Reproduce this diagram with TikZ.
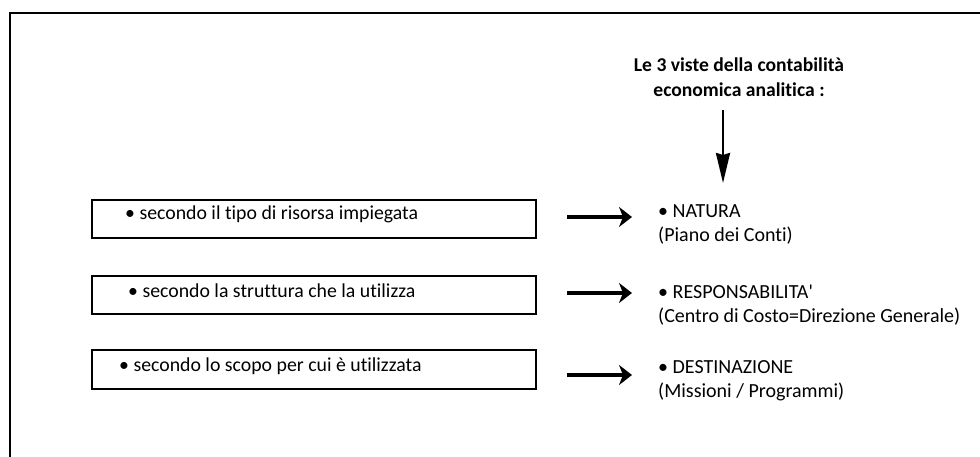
\documentclass[tikz,border=0pt]{standalone}
\usepackage{fontspec}
\setmainfont{Carlito}
\newfontfamily\rawfont{Carlito}[Ligatures=NoCommon]
\usetikzlibrary{arrows.meta}
\begin{document}
\begin{tikzpicture}[x=1pt,y=-1pt,
  boxstyle/.style={draw=black,line width=1.2pt},
  lefttext/.style={font=\rawfont\fontsize{19.8}{25}\selectfont,anchor=west,inner sep=0pt},
  righttext/.style={font=\rawfont\fontsize{20}{25}\selectfont,anchor=west,inner sep=0pt},
  bigarrow/.style={line width=4.5pt,-{Stealth[length=13pt,width=20pt,inset=4pt]}},
  downarrow/.style={line width=2.4pt,-{Stealth[length=30pt,width=14pt,inset=2pt]}}]
\useasboundingbox (0,0) rectangle (980,457);
\draw[line width=1.2pt] (10,470) -- (10,13) -- (990,13);
% boxes
\draw[boxstyle] (92,200) rectangle (536,238);
\draw[boxstyle] (92,276) rectangle (536,314);
\draw[boxstyle] (92,350) rectangle (536,389);
\node[lefttext] (b1) at (125,214) {• secondo il tipo di risorsa impiegata};
\node[lefttext] (b2) at (128,291) {• secondo la struttura che la utilizza};
\node[lefttext] (b3) at (119,366) {• secondo lo scopo per cui è utilizzata};
% title
\node[font=\rawfont\bfseries\fontsize{19.6}{25}\selectfont,align=center,inner sep=0pt] (title) at (739,77) {Le 3 viste della contabilità\\economica analitica :};
\coordinate (dtop) at (723,110);
\coordinate (dbot) at (723,183);
\draw[downarrow] (dtop) -- (dbot);
% right texts
\node[righttext] (n1) at (658,211) {• NATURA};
\node[righttext] (n1b) at (658,236) {(Piano dei Conti)};
\node[righttext] (n2) at (658,292) {• RESPONSABILITA'};
\node[righttext] (n2b) at (658,317) {(Centro di Costo=Direzione Generale)};
\node[righttext] (n3) at (658,367) {• DESTINAZIONE};
\node[righttext] (n3b) at (658,392) {(Missioni / Programmi)};
% arrows
\coordinate (a1s) at (567,217); \coordinate (a1e) at (632,217);
\coordinate (a2s) at (567,293); \coordinate (a2e) at (632,293);
\coordinate (a3s) at (567,375); \coordinate (a3e) at (632,375);
\draw[bigarrow] (a1s) -- (a1e);
\draw[bigarrow] (a2s) -- (a2e);
\draw[bigarrow] (a3s) -- (a3e);
\end{tikzpicture}
\end{document}
